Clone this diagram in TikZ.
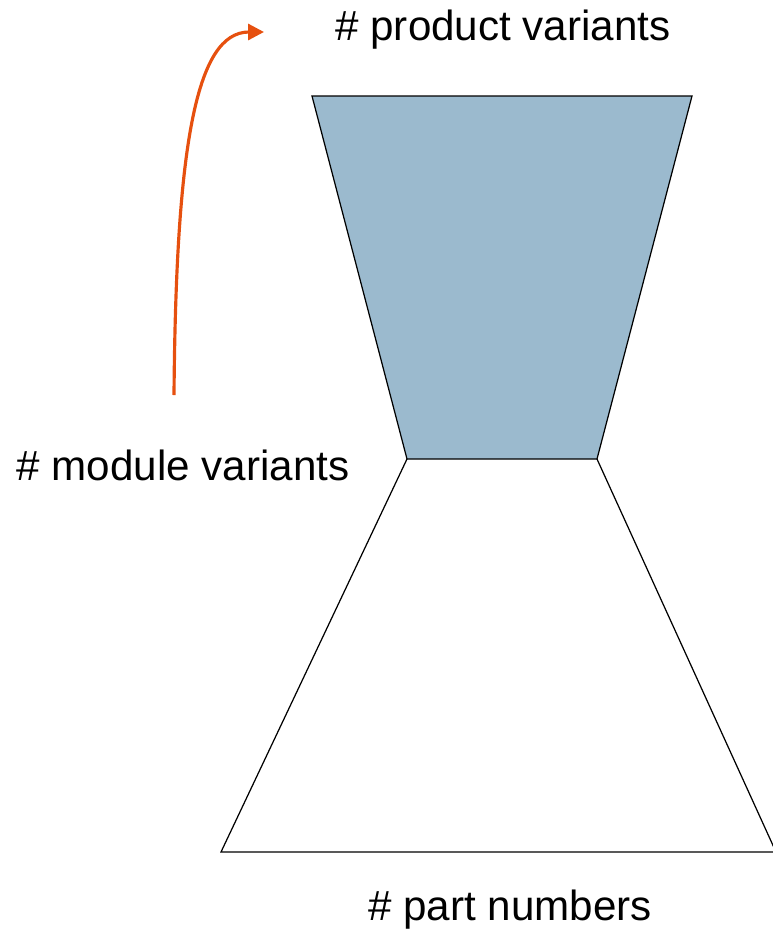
\documentclass[tikz,border=0pt]{standalone}
\usepackage{fontspec}
\setmainfont{Liberation Sans}
\usetikzlibrary{positioning,arrows.meta}
\definecolor{funnel}{HTML}{9BBACE}
\definecolor{flow}{HTML}{E6500F}

\begin{document}
\begin{tikzpicture}[x=0.02cm,y=-0.02cm, every node/.style={align=center,font=\fontsize{24}{28}\selectfont}]
\useasboundingbox (0,0) rectangle (773,931);
\coordinate (tl) at (312,96);\coordinate (tr) at (692,96);
\coordinate (ml) at (407,459);\coordinate (mr) at (597,459);
\coordinate (bl) at (221,852);\coordinate (br) at (776,852);
\draw[fill=funnel,line width=0.7pt] (tl)--(tr)--(mr)--(ml)--cycle;
\draw[line width=0.7pt] (ml)--(bl)--(br)--(mr);
\node (pv) at (503,30) {\# product variants};
\node (mv) at (183,465) {\# module variants};
\node (pn) at (510,910) {\# part numbers};
\coordinate (s) at (174,395);\coordinate (e) at (264,32);
\draw[-{Triangle[length=9pt,width=9pt]},line width=1.8pt,flow] (s) .. controls (176,150) and (195,32) .. (e);
\end{tikzpicture}
\end{document}
